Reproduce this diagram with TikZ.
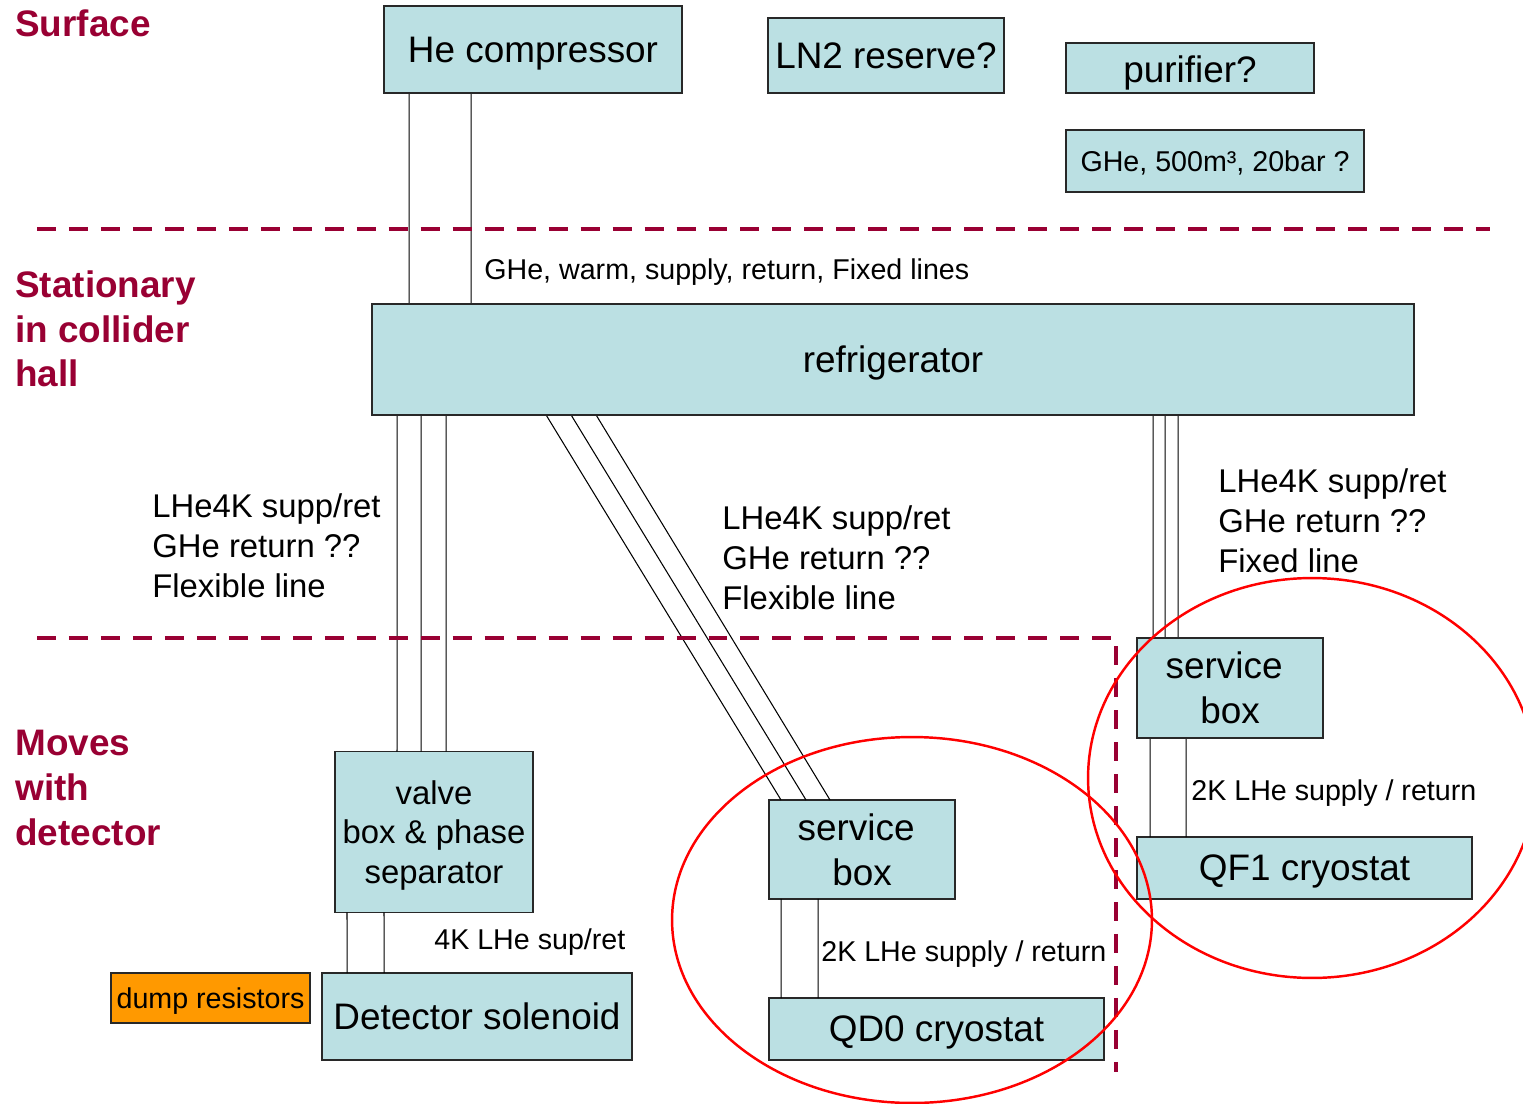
\documentclass[tikz,border=0pt]{standalone}
\usepackage{fontspec}
\setmainfont{Liberation Sans}
\usetikzlibrary{calc}
\definecolor{boxfill}{RGB}{187,224,227}
\definecolor{boxline}{RGB}{40,40,40}
\definecolor{sepred}{RGB}{153,0,51}
\definecolor{dumporange}{RGB}{255,153,0}
\definecolor{ringred}{RGB}{255,0,0}
\tikzset{
 box/.style={draw=boxline, fill=boxfill, line width=0.9pt, inner sep=0pt, outer sep=0pt, text depth=0pt, font=\fontsize{21}{25.5}\selectfont, align=center},
 midbox/.style={box, font=\fontsize{18.7}{22.7}\selectfont},
 smallbox/.style={box, font=\fontsize{16.3}{20}\selectfont},
 lbl/.style={anchor=west, inner sep=0pt, align=left, font=\fontsize{18.7}{22.7}\selectfont},
 slbl/.style={anchor=west, inner sep=0pt, text depth=0pt, font=\fontsize{16.3}{20}\selectfont},
 region/.style={anchor=west, inner sep=0pt, align=left, text=sepred, font=\bfseries\fontsize{21}{25.5}\selectfont},
 pipe/.style={draw=black, line width=0.6pt},
 sepline/.style={draw=sepred, line width=2.8pt, dash pattern=on 10.8pt off 7.4pt},
 ring/.style={draw=ringred, line width=1.4pt},
}
\begin{document}
\begin{tikzpicture}[x=0.02cm, y=-0.02cm]
\useasboundingbox (0,0) rectangle (1523,1104);
\clip (0,0) rectangle (1523,1104);
\fill[white] (0,0) rectangle (1523,1104);

% boxes
\node[box, minimum width=5.96cm, minimum height=1.74cm] (comp) at (533,49.5) {He compressor};
\node[box, minimum width=4.72cm, minimum height=1.5cm] (ln2) at (886,55.5) {LN2 reserve?};
\node[box, minimum width=4.96cm, minimum height=1.0cm, text height=16pt] (pur) at (1190,68) {purifier?};
\node[smallbox, minimum width=5.96cm, minimum height=1.24cm] (ghe) at (1215,161) {GHe, 500m³, 20bar ?};
\node[box, minimum width=20.84cm, minimum height=2.22cm] (refr) at (893,359.5) {refrigerator};
\node[box, minimum width=3.72cm, minimum height=2.0cm] (sbR) at (1230,688) {service\kern0.32em\\box};
\node[box, minimum width=6.7cm, minimum height=1.24cm] (qf1) at (1304.5,868) {QF1 cryostat};
\node[box, minimum width=3.72cm, minimum height=1.98cm] (sbM) at (862,849.5) {service\kern0.32em\\box};
\node[box, minimum width=6.7cm, minimum height=1.24cm] (qd0) at (936.5,1029) {QD0 cryostat};
\node[midbox, minimum width=3.96cm, minimum height=3.22cm] (valve) at (434,832) {valve\\box \& phase\\separator};
\node[box, minimum width=6.2cm, minimum height=1.74cm] (sol) at (477,1016.5) {Detector solenoid};
\node[smallbox, fill=dumporange, minimum width=3.98cm, minimum height=1.0cm] (dump) at (210.5,998) {dump resistors};

% pipes
\draw[pipe] ($(comp.south west)+(25,0)$) -- ($(refr.north west)+(37,0)$);
\draw[pipe] ($(comp.south west)+(87,0)$) -- ($(refr.north west)+(99,0)$);

\draw[pipe] ($(refr.south west)+(25,0)$) -- ($(valve.north west)+(62,0)$);
\draw[pipe] ($(refr.south west)+(49,0)$) -- ($(valve.north west)+(86,0)$);
\draw[pipe] ($(refr.south west)+(74,0)$) -- ($(valve.north west)+(111,0)$);

\draw[pipe] ($(refr.south west)+(174,0)$) -- ($(sbM.north west)+(12,0)$);
\draw[pipe] ($(refr.south west)+(199,0)$) -- ($(sbM.north west)+(37,0)$);
\draw[pipe] ($(refr.south west)+(224,0)$) -- ($(sbM.north west)+(61,0)$);

\draw[pipe] ($(refr.south west)+(781,0)$) -- ($(sbR.north west)+(16,0)$);
\draw[pipe] ($(refr.south west)+(793,0)$) -- ($(sbR.north west)+(28,0)$);
\draw[pipe] ($(refr.south west)+(806,0)$) -- ($(sbR.north west)+(41,0)$);

\draw[pipe] ($(sbR.south west)+(13,0)$) -- ($(qf1.north west)+(13,0)$);
\draw[pipe] ($(sbR.south west)+(49,0)$) -- ($(qf1.north west)+(49,0)$);

\draw[pipe] ($(sbM.south west)+(12,0)$) -- ($(qd0.north west)+(12,0)$);
\draw[pipe] ($(sbM.south west)+(49,0)$) -- ($(qd0.north west)+(49,0)$);

\draw[pipe] ($(valve.south west)+(12,0)$) -- ($(sol.north west)+(25,0)$);
\draw[pipe] ($(valve.south west)+(49,0)$) -- ($(sol.north west)+(62,0)$);

% separators
\draw[sepline] (37,229) -- (1490,229);
\draw[sepline] (37,638) -- (1116,638) -- (1116,1072);

% redraw boxes crossed by separators on top
\node[box, minimum width=5.96cm, minimum height=1.74cm] at (comp) {He compressor};
\node[box, minimum width=20.84cm, minimum height=2.22cm] at (refr) {refrigerator};
\node[box, minimum width=3.72cm, minimum height=2.0cm] at (sbR) {service\kern0.32em\\box};

% labels
\node[region] (surf) at (15,23) {Surface};
\node[region] (stat) at (15,329) {Stationary\\in collider\\hall};
\node[region] (moves) at (15,788) {Moves\\with\\detector};

\node[slbl] (lwarm) at (484,269) {GHe, warm, supply, return, Fixed lines};
\node[lbl] (lleft) at (152,546) {LHe4K supp/ret\\GHe return ??\\Flexible line};
\node[lbl] (lmid) at (722,558) {LHe4K supp/ret\\GHe return ??\\Flexible line};
\node[lbl] (lright) at (1218,521) {LHe4K supp/ret\\GHe return ??\\Fixed line};
\node[slbl] (l4k) at (434,939) {4K LHe sup/ret};
\node[slbl] (l2kM) at (821,951) {2K LHe supply / return};
\node[slbl] (l2kR) at (1191,790) {2K LHe supply / return};

% rings
\draw[ring] (912,920) ellipse [x radius=4.8cm, y radius=3.66cm];
\draw[ring] (1312,778) ellipse [x radius=4.48cm, y radius=4cm];
\end{tikzpicture}
\end{document}
